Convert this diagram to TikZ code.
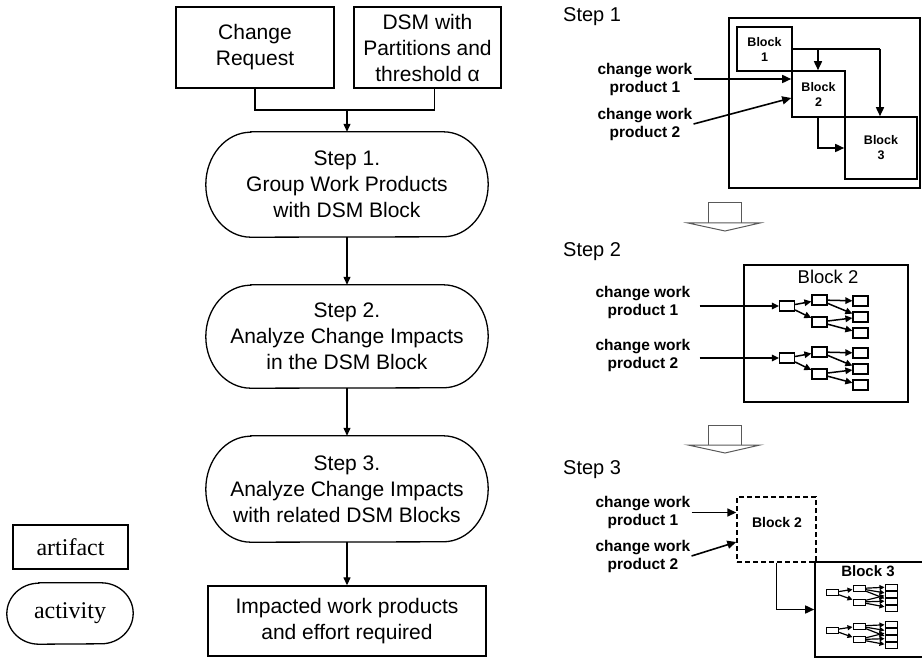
\documentclass[tikz,border=0pt]{standalone}
\usepackage{fontspec}
\setmainfont{Liberation Sans}
\newfontfamily\legfont{Liberation Serif}
\usetikzlibrary{arrows.meta}
\newcommand{\lfont}{\fontsize{21}{26}\selectfont}
\newcommand{\cwfont}{\bfseries\fontsize{15.5}{18}\selectfont}
\newcommand{\stfont}{\fontsize{20}{24}\selectfont}
% stadium outline around a node: name, x radius, y radius
\newcommand{\stad}[3]{%
  \draw[line width=1.3pt] ([xshift=#2]#1.north west) -- ([xshift=-#2]#1.north east)
    arc[start angle=90,end angle=-90,x radius=#2,y radius=#3]
    -- ([xshift=#2]#1.south west)
    arc[start angle=-90,end angle=-270,x radius=#2,y radius=#3] -- cycle;}
% tree inside Block 2 of step 2
\newcommand{\bigtree}[2]{%
  \begin{scope}[shift={(0,#2)}]
    \node[tb] (#1r) at (787,306) {};
    \node[tb] (#1a) at (819.5,300) {};
    \node[tb] (#1b) at (819.5,322) {};
    \node[tb] (#1c) at (860.5,301) {};
    \node[tb] (#1d) at (860.5,317) {};
    \node[tb] (#1e) at (860.5,333) {};
    \draw[tarr] (#1r) -- (#1a);
    \draw[tarr] (#1r) -- (#1b);
    \draw[tarr] (#1a) -- (#1c);
    \draw[tarr] (#1a) -- (#1d);
    \draw[tarr] (#1b) -- (#1d);
    \draw[tarr] (#1b) -- (#1e);
  \end{scope}}
% small tree inside Block 3 of step 3
\newcommand{\smalltree}[2]{%
  \begin{scope}[shift={(0,#2)}]
    \node[mb] (#1r) at (832.5,592.5) {};
    \node[mb] (#1a) at (859,588.5) {};
    \node[mb] (#1b) at (859,602) {};
    \node[mb] (#1c) at (891,587) {};
    \node[mb] (#1d) at (891,594) {};
    \node[mb] (#1e) at (891,601) {};
    \node[mb] (#1f) at (891,608) {};
    \draw[marr] (#1r) -- (#1a);
    \draw[marr] (#1r) -- (#1b);
    \draw[marr] (#1a) -- (#1c);
    \draw[marr] (#1a) -- (#1d);
    \draw[marr] (#1a) -- (#1e);
    \draw[marr] (#1b) -- (#1d);
    \draw[marr] (#1b) -- (#1e);
    \draw[marr] (#1b) -- (#1f);
  \end{scope}}
\begin{document}
\begin{tikzpicture}[x=1pt,y=-1pt,
  art/.style={draw, line width=1.3pt, align=center, inner sep=0pt, font=\lfont},
  act/.style={align=center, inner sep=0pt, font=\lfont},
  arr/.style={line width=1.2pt, -{Triangle[length=8pt,width=7pt]}},
  ln/.style={line width=1.2pt},
  blk/.style={draw, line width=1.6pt, inner sep=0pt, align=center, font=\bfseries\fontsize{12.5}{15}\selectfont},
  frame/.style={draw, line width=1.6pt, inner sep=0pt},
  arr1/.style={line width=1.6pt, -{Triangle[length=9pt,width=8pt]}},
  cw/.style={align=center, font=\cwfont, inner sep=1pt},
  steplbl/.style={anchor=west, font=\stfont, inner sep=0pt},
  tb/.style={draw, line width=1.2pt, minimum width=15pt, minimum height=10pt, inner sep=0pt},
  tarr/.style={line width=1.5pt, -{Triangle[length=7pt,width=6.5pt]}},
  mb/.style={draw, line width=1pt, minimum width=12pt, minimum height=6pt, inner sep=0pt},
  marr/.style={line width=1.2pt, -{Triangle[length=5pt,width=5pt]}},
  hollow/.style={line width=1pt, draw=black!65}
]
\useasboundingbox (0,0) rectangle (922,658);

% ---------------- left flow ----------------
\node[art, minimum width=158pt, minimum height=81pt] (cr) at (255,47.5) {Change\\Request};
\node[art, minimum width=147pt, minimum height=81pt] (dsm) at (427.5,47.5) {DSM with\\Partitions and\\threshold α};
\node[act, minimum width=282pt, minimum height=105pt] (s1) at (347,184.5) {Step 1.\\Group Work Products\\with DSM Block};
\stad{s1}{45pt}{52.5pt}
\node[act, minimum width=282pt, minimum height=103pt] (s2) at (347,336.5) {Step 2.\\Analyze Change Impacts\\in the DSM Block};
\stad{s2}{45pt}{51.5pt}
\node[act, minimum width=282pt, minimum height=106pt] (s3) at (347,489) {Step 3.\\Analyze Change Impacts\\with related DSM Blocks};
\stad{s3}{45pt}{53pt}
\node[art, minimum width=278pt, minimum height=70pt] (res) at (347,621) {Impacted work products\\and effort required};

\coordinate (j) at (347,110);
\draw[ln] (cr.south) -- (cr.south |- j) -- ([xshift=7pt]dsm.south |- j) -- ([xshift=7pt]dsm.south);
\draw[arr] (j) -- (s1.north);
\draw[arr] (s1) -- (s2);
\draw[arr] (s2) -- (s3);
\draw[arr] (s3) -- (res);

% ---------------- legend ----------------
\node[art, font=\legfont\fontsize{24}{28}\selectfont, minimum width=115pt, minimum height=44pt] (la) at (70.5,547) {artifact};
\node[act, font=\legfont\fontsize{24}{28}\selectfont, minimum width=126pt, minimum height=61pt] (lc) at (70,613.5) {activity};
\stad{lc}{32pt}{30.5pt}

% ---------------- Step 1 (right) ----------------
\node[steplbl] (st1) at (563,17) {Step 1};
\node[frame, minimum width=191pt, minimum height=170pt] (ob) at (824.5,103) {};
\node[blk, minimum width=55pt, minimum height=44pt] (b1) at (764.5,49) {Block\\1};
\node[blk, minimum width=53pt, minimum height=46pt] (b2) at (818.5,94) {Block\\2};
\node[blk, minimum width=72pt, minimum height=62pt] (b3) at (881,148) {Block\\3};
\coordinate (t1) at (818,49);
\coordinate (t2) at (880,49);
\draw[line width=1.6pt] (b1.east) -- (t2);
\draw[arr1] (t1) -- (t1 |- b2.north);
\draw[arr1] (t2) -- (t2 |- b3.north);
\draw[arr1] (b2.south -| t1) |- (b3.west);
\node[cw] (cw11) at (645,79) {change work\\product 1};
\node[cw] (cw12) at (645,124) {change work\\product 2};
\draw[arr1] (cw11.east) -- (b2.west |- cw11.east);
\draw[arr1] (cw12.east) -- ([yshift=-4pt]b2.west);

% hollow arrow 1
\draw[hollow] (708,223) -- (708,203) -- (741,203) -- (741,223);
\draw[hollow] (688,223) -- (760,223) -- (725,231) -- cycle;

% ---------------- Step 2 (right) ----------------
\node[steplbl] (st2) at (563,252) {Step 2};
\node[frame, minimum width=164pt, minimum height=137pt] (bx2) at (826,333.5) {};
\node[font=\fontsize{18.5}{22}\selectfont, inner sep=0pt] (bl2) at (828,277) {Block 2};
\node[cw] (cw21) at (643,302.5) {change work\\product 1};
\node[cw] (cw22) at (643,355.5) {change work\\product 2};
\bigtree{ta}{0}
\bigtree{tb}{52}
\draw[line width=1.4pt, -{Triangle[length=7pt,width=6.5pt]}, shorten <=8pt] (tar.west -| cw21.east) -- (tar.west);
\draw[line width=1.4pt, -{Triangle[length=7pt,width=6.5pt]}, shorten <=8pt] (tbr.west -| cw22.east) -- (tbr.west);

% hollow arrow 2
\draw[hollow] (708,445) -- (708,425) -- (741,425) -- (741,445);
\draw[hollow] (688,445) -- (760,445) -- (725,453) -- cycle;

% ---------------- Step 3 (right) ----------------
\node[steplbl] (st3) at (563,470) {Step 3};
\node[draw, dashed, dash pattern=on 5pt off 3pt, line width=1.4pt, minimum width=79pt, minimum height=65pt, inner sep=0pt] (b32) at (776.5,529.5) {};
\node[font=\bfseries\fontsize{14}{17}\selectfont, inner sep=0pt] (t32) at (777,522) {Block 2};
\node[frame, minimum width=108pt, minimum height=95pt] (b33) at (869,609.5) {};
\node[font=\bfseries\fontsize{15}{18}\selectfont, inner sep=0pt] (t33) at (868,571) {Block 3};
\node[cw] (cw31) at (643,512.5) {change work\\product 1};
\node[cw] (cw32) at (643,556) {change work\\product 2};
\draw[arr1] (cw31.east) -- (b32.west |- cw31.east);
\draw[arr1] (cw32.east) -- ([yshift=-12.5pt]b32.west);
\draw[arr1] (b32.south) |- (b33.west);
\smalltree{ma}{0}
\smalltree{mc}{37.5}
\end{tikzpicture}
\end{document}
